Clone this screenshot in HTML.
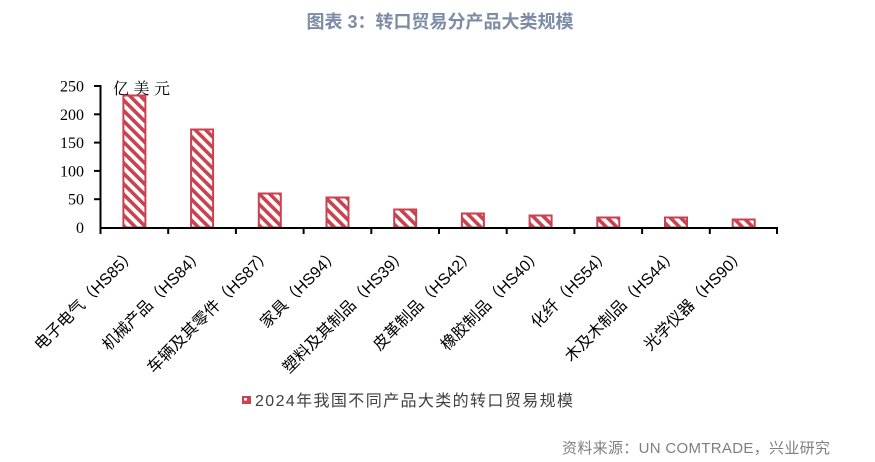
<!DOCTYPE html>
<html>
<head>
<meta charset="utf-8">
<style>
  html, body { margin: 0; padding: 0; background: #ffffff; }
  body { width: 875px; height: 462px; overflow: hidden; }
  svg { display: block; }
</style>
</head>
<body>
<svg width="875" height="462" viewBox="0 0 875 462" xmlns="http://www.w3.org/2000/svg">
  <defs>
    <pattern id="hatch" patternUnits="userSpaceOnUse" width="7.4" height="7.4" patternTransform="rotate(-45)">
      <rect x="0" y="0" width="7.4" height="7.4" fill="#ffffff"/>
      <rect x="0" y="0" width="3.6" height="7.4" fill="#C9424F"/>
    </pattern>
  </defs>

  <!-- Title -->
  <text x="440" y="28" text-anchor="middle" font-family="'Liberation Sans','Noto Sans CJK SC',sans-serif" font-size="18" font-weight="bold" fill="#7D8CA6">图表 3：转口贸易分产品大类规模</text>

  <!-- Unit label -->
  <text x="113" y="94" font-family="'Liberation Serif','Noto Serif CJK SC',serif" font-size="16" fill="#000" textLength="57" lengthAdjust="spacing">亿美元</text>

  <!-- Bars -->
  <g stroke="#C9424F" stroke-width="2" fill="url(#hatch)">
    <rect x="123.4" y="95.5" width="22" height="132"/>
    <rect x="191.1" y="129.5" width="22" height="98"/>
    <rect x="258.8" y="193.5" width="22" height="34"/>
    <rect x="326.5" y="197.5" width="22" height="30"/>
    <rect x="394.2" y="209.5" width="22" height="18"/>
    <rect x="461.9" y="213.5" width="22" height="14"/>
    <rect x="529.6" y="215.5" width="22" height="12"/>
    <rect x="597.3" y="217.5" width="22" height="10"/>
    <rect x="665.0" y="217.5" width="22" height="10"/>
    <rect x="732.7" y="219.5" width="22" height="8"/>
  </g>

  <!-- Axes -->
  <g stroke="#000" stroke-width="2" fill="none">
    <line x1="100.5" y1="85" x2="100.5" y2="228"/>
    <line x1="100" y1="228" x2="778" y2="228"/>
    <!-- y ticks -->
    <line x1="94" y1="86" x2="100.5" y2="86"/>
    <line x1="94" y1="114.3" x2="100.5" y2="114.3"/>
    <line x1="94" y1="142.6" x2="100.5" y2="142.6"/>
    <line x1="94" y1="170.9" x2="100.5" y2="170.9"/>
    <line x1="94" y1="199.2" x2="100.5" y2="199.2"/>
    <!-- x ticks -->
    <line x1="100.5" y1="228" x2="100.5" y2="234"/>
    <line x1="168.2" y1="228" x2="168.2" y2="234"/>
    <line x1="235.9" y1="228" x2="235.9" y2="234"/>
    <line x1="303.6" y1="228" x2="303.6" y2="234"/>
    <line x1="371.3" y1="228" x2="371.3" y2="234"/>
    <line x1="439.0" y1="228" x2="439.0" y2="234"/>
    <line x1="506.7" y1="228" x2="506.7" y2="234"/>
    <line x1="574.4" y1="228" x2="574.4" y2="234"/>
    <line x1="642.1" y1="228" x2="642.1" y2="234"/>
    <line x1="709.8" y1="228" x2="709.8" y2="234"/>
    <line x1="777.0" y1="228" x2="777.0" y2="234"/>
  </g>

  <!-- Y tick labels -->
  <g font-family="'Liberation Serif',serif" font-size="16" fill="#000" text-anchor="end">
    <text x="84" y="91.5">250</text>
    <text x="84" y="119.8">200</text>
    <text x="84" y="148.1">150</text>
    <text x="84" y="176.4">100</text>
    <text x="84" y="204.7">50</text>
    <text x="84" y="233">0</text>
  </g>

  <!-- X category labels -->
  <g font-family="'Liberation Sans','Noto Sans CJK SC',sans-serif" font-size="16" fill="#000" text-anchor="end" dominant-baseline="central">
    <text transform="translate(134,252) rotate(-45)">电子电气（HS85）</text>
    <text transform="translate(201.7,252) rotate(-45)">机械产品（HS84）</text>
    <text transform="translate(269.4,252) rotate(-45)">车辆及其零件（HS87）</text>
    <text transform="translate(337.1,252) rotate(-45)">家具（HS94）</text>
    <text transform="translate(404.8,252) rotate(-45)">塑料及其制品（HS39）</text>
    <text transform="translate(472.5,252) rotate(-45)">皮革制品（HS42）</text>
    <text transform="translate(540.2,252) rotate(-45)">橡胶制品（HS40）</text>
    <text transform="translate(607.9,252) rotate(-45)">化纤（HS54）</text>
    <text transform="translate(675.6,252) rotate(-45)">木及木制品（HS44）</text>
    <text transform="translate(743.3,252) rotate(-45)">光学仪器（HS90）</text>
  </g>

  <!-- Legend -->
  <rect x="242.5" y="396.5" width="8" height="7" fill="#C9424F" stroke="#C9424F" stroke-width="1"/>
  <rect x="244" y="398" width="3" height="2.5" fill="#ffffff"/>
  <text x="255" y="406" font-family="'Liberation Sans','Noto Sans CJK SC',sans-serif" font-size="16" fill="#404040" textLength="318" lengthAdjust="spacing">2024年我国不同产品大类的转口贸易规模</text>

  <!-- Source -->
  <text x="562" y="453" font-family="'Liberation Sans','Noto Sans CJK SC',sans-serif" font-size="15" fill="#7F7F7F" textLength="268" lengthAdjust="spacing">资料来源：UN COMTRADE，兴业研究</text>
</svg>
</body>
</html>
